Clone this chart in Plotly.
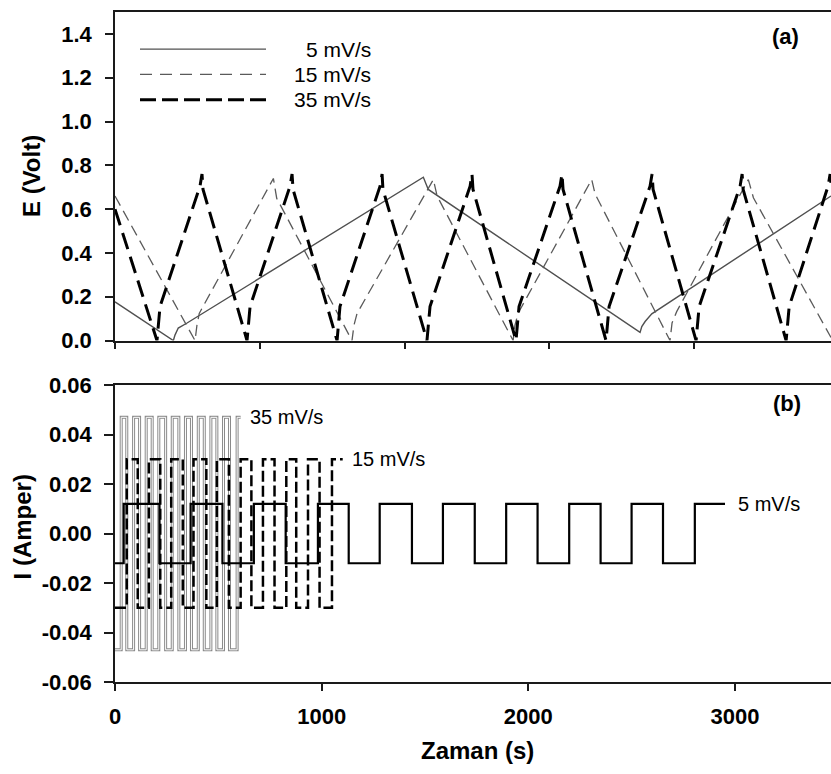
import plotly.graph_objects as go

# ---------------- Panel (a): potential vs time (unlabelled time axis units) ----------------
top_t_5 = [0, 40.3, 41.5, 43.7, 49.5, 213.0, 216.4, 362.7, 363.9, 366.2, 370.8, 494.6]
top_E_5 = [0.177, 0.0, 0.026, 0.057, 0.079, 0.746, 0.69, 0.037, 0.064, 0.087, 0.122, 0.66]

top_t_15 = [0, 55.3, 56.6, 58.2, 109.4, 111.7, 163.7, 165.1, 167.2, 219.9, 222.5,
            275.0, 276.3, 278.4, 329.3, 331.6, 383.4, 384.8, 388.0, 437.5, 441.0, 494.6]
top_E_15 = [0.66, 0.0, 0.07, 0.124, 0.74, 0.65, 0.0, 0.07, 0.124, 0.735, 0.66,
            0.0, 0.07, 0.124, 0.735, 0.67, 0.0, 0.08, 0.132, 0.735, 0.652, 0.014]

top_t_35 = [0,
            29.0, 31.1, 58.7, 60.1, 60.8,
            91.2, 93.3, 120.9, 122.3, 123.0,
            153.4, 155.4, 183.1, 184.5, 185.1,
            215.5, 217.6, 245.3, 246.6, 247.3,
            277.0, 279.1, 307.4, 308.8, 309.5,
            339.2, 341.3, 369.6, 371.0, 371.7,
            401.4, 403.5, 431.8, 433.2, 433.9,
            463.6, 465.7, 492.6, 494.0, 494.6]
top_E_35 = [0.60,
            0.0, 0.155, 0.705, 0.76, 0.69,
            0.0, 0.155, 0.705, 0.76, 0.69,
            0.0, 0.155, 0.705, 0.76, 0.69,
            0.0, 0.155, 0.705, 0.76, 0.69,
            0.0, 0.155, 0.705, 0.76, 0.69,
            0.0, 0.155, 0.705, 0.76, 0.69,
            0.0, 0.155, 0.705, 0.76, 0.69,
            0.0, 0.155, 0.705, 0.76, 0.72]

top_ticks = [0, 100, 200, 300, 400]
E_ticks = [0.0, 0.2, 0.4, 0.6, 0.8, 1.0, 1.2, 1.4]
E_ticktext = ["0.0", "0.2", "0.4", "0.6", "0.8", "1.0", "1.2", "1.4"]

# ---------------- Panel (b): current square waves vs time (s) ----------------
# switching times (s); every wave starts at its negative level
sw_t_35 = [30, 57, 90, 119, 151, 180, 212, 245, 277, 309, 341, 370, 403, 432, 464, 493, 525, 554, 591]
sw_end_35 = 608
amp_35 = 0.047

sw_t_15 = [57, 110, 164, 219, 272, 328, 380, 442, 493, 551, 608, 660, 716, 772, 829, 877, 934, 990, 1050]
sw_end_15 = 1102
amp_15 = 0.030

sw_t_5 = [42, 215, 366, 520, 672, 826, 982, 1131, 1281, 1437, 1587, 1741, 1893, 2045, 2198, 2350, 2500, 2652, 2806]
sw_end_5 = 2952
amp_5 = 0.012

I_ticks = [0.06, 0.04, 0.02, 0.0, -0.02, -0.04, -0.06]
I_ticktext = ["0.06", "0.04", "0.02", "0.00", "-0.02", "-0.04", "-0.06"]
t_ticks = [0, 1000, 2000, 3000]
t_ticktext = ["0", "1000", "2000", "3000"]

labels = ["5 mV/s", "15 mV/s", "35 mV/s"]


def square(times, end, amp):
    xs = [0] + list(times) + [end]
    ys = [-amp]
    for i in range(len(times)):
        ys.append(amp if i % 2 == 0 else -amp)
    ys.append(ys[-1])
    return xs, ys


FONT = "Liberation Sans, Arial, sans-serif"
W, H = 831, 774
ML, MR, MT, MB = 115, 0, 6, 92
PW, PH = W - ML - MR, H - MT - MB


def px(xp):
    return (xp - ML) / PW


def py(yp):
    return (H - MB - yp) / PH


top_dom = [py(337.5), 1.0]
bot_dom = [0.0, py(382.5)]

fig = go.Figure()

# panel (a)
fig.add_trace(go.Scatter(x=top_t_5, y=top_E_5, mode="lines", xaxis="x", yaxis="y",
                         line=dict(color="#505050", width=1.4)))
fig.add_trace(go.Scatter(x=top_t_15, y=top_E_15, mode="lines", xaxis="x", yaxis="y",
                         line=dict(color="#5a5a5a", width=1.3, dash="11px,6px")))
fig.add_trace(go.Scatter(x=top_t_35, y=top_E_35, mode="lines", xaxis="x", yaxis="y",
                         line=dict(color="#000000", width=3, dash="17px,8px")))

# panel (b)
x35, y35 = square(sw_t_35, sw_end_35, amp_35)
x15, y15 = square(sw_t_15, sw_end_15, amp_15)
x5, y5 = square(sw_t_5, sw_end_5, amp_5)
# hollow-looking grey line (outline effect)
fig.add_trace(go.Scatter(x=x35, y=y35, mode="lines", xaxis="x2", yaxis="y2", line_shape="hv",
                         line=dict(color="#8a8a8a", width=3)))
fig.add_trace(go.Scatter(x=x35, y=y35, mode="lines", xaxis="x2", yaxis="y2", line_shape="hv",
                         line=dict(color="#ffffff", width=1)))
fig.add_trace(go.Scatter(x=x15, y=y15, mode="lines", xaxis="x2", yaxis="y2", line_shape="hv",
                         line=dict(color="#000000", width=2.5, dash="11px,4px")))
fig.add_trace(go.Scatter(x=x5, y=y5, mode="lines", xaxis="x2", yaxis="y2", line_shape="hv",
                         line=dict(color="#000000", width=2.2)))

axcol = "#1a1a1a"
tickfont = dict(family=FONT, size=22, color="#000", weight="bold")

fig.update_layout(
    width=W, height=H,
    margin=dict(l=ML, r=MR, t=MT, b=MB),
    paper_bgcolor="white", plot_bgcolor="white",
    showlegend=False,
    xaxis=dict(domain=[0, 1], anchor="y", range=[0, 494.6], tickvals=top_ticks,
               showticklabels=False, ticks="outside", ticklen=7, tickwidth=1.5, tickcolor=axcol,
               showline=True, linecolor=axcol, linewidth=1.5, mirror=True,
               showgrid=False, zeroline=False),
    yaxis=dict(domain=top_dom, anchor="x", range=[0, 1.5], tickvals=E_ticks, ticktext=E_ticktext,
               ticks="outside", ticklen=8, tickwidth=1.5, tickcolor=axcol, tickfont=tickfont,
               ticklabelstandoff=9,
               showline=True, linecolor=axcol, linewidth=1.5, showgrid=False, zeroline=False),
    xaxis2=dict(domain=[0, 1], anchor="y2", range=[0, 3465], tickvals=t_ticks, ticktext=t_ticktext,
                ticks="outside", ticklen=7, tickwidth=1.5, tickcolor=axcol, tickfont=tickfont,
                ticklabelstandoff=7,
                showline=True, linecolor=axcol, linewidth=1.5, mirror=True,
                showgrid=False, zeroline=False),
    yaxis2=dict(domain=bot_dom, anchor="x2", range=[-0.06, 0.06], tickvals=I_ticks, ticktext=I_ticktext,
                ticks="outside", ticklen=9, tickwidth=1.5, tickcolor=axcol, tickfont=tickfont,
                ticklabelstandoff=8,
                showline=True, linecolor=axcol, linewidth=1.5, showgrid=False, zeroline=False),
)

title_font = dict(family=FONT, size=24, color="#000", weight="bold")
ann = [
    dict(text="E (Volt)", x=px(31.5), y=py(172), textangle=-90, font=title_font),
    dict(text="I (Amper)", x=px(22), y=py(526), textangle=-90, font=title_font),
    dict(text="Zaman (s)", x=px(478), y=py(751), font=title_font),
    dict(text="(a)", x=px(785), y=py(31), font=dict(family=FONT, size=22, color="#000", weight="bold")),
    dict(text="(b)", x=px(786.5), y=py(401), font=dict(family=FONT, size=22, color="#000", weight="bold")),
]
for a in ann:
    fig.add_annotation(xref="paper", yref="paper", showarrow=False, xanchor="center", yanchor="middle", **a)

# legend of panel (a)
leg_y = [43.5, 69, 94.5]
leg_styles = [dict(color="#505050", width=1.4), dict(color="#5a5a5a", width=1.3, dash="12px,8px"),
              dict(color="#000000", width=3, dash="16px,6px")]
for lab, yy, st in zip(labels, leg_y, leg_styles):
    fig.add_shape(type="line", xref="paper", yref="paper", x0=px(140), x1=px(266), y0=py(yy), y1=py(yy), line=st)
    fig.add_annotation(xref="paper", yref="paper", x=px(373), y=py(yy), text=lab, showarrow=False,
                       xanchor="right", yanchor="middle", font=dict(family=FONT, size=21, color="#000"))

# labels at the end of the square waves
end_labels = [(labels[2], 646, amp_35), (labels[1], 1135, amp_15), (labels[0], 3005, amp_5)]
for lab, xx, yy in end_labels:
    fig.add_annotation(xref="x2", yref="y2", x=xx, y=yy, text=lab, showarrow=False,
                       xanchor="left", yanchor="middle", font=dict(family=FONT, size=20, color="#000"))

fig.write_html("out.html")
